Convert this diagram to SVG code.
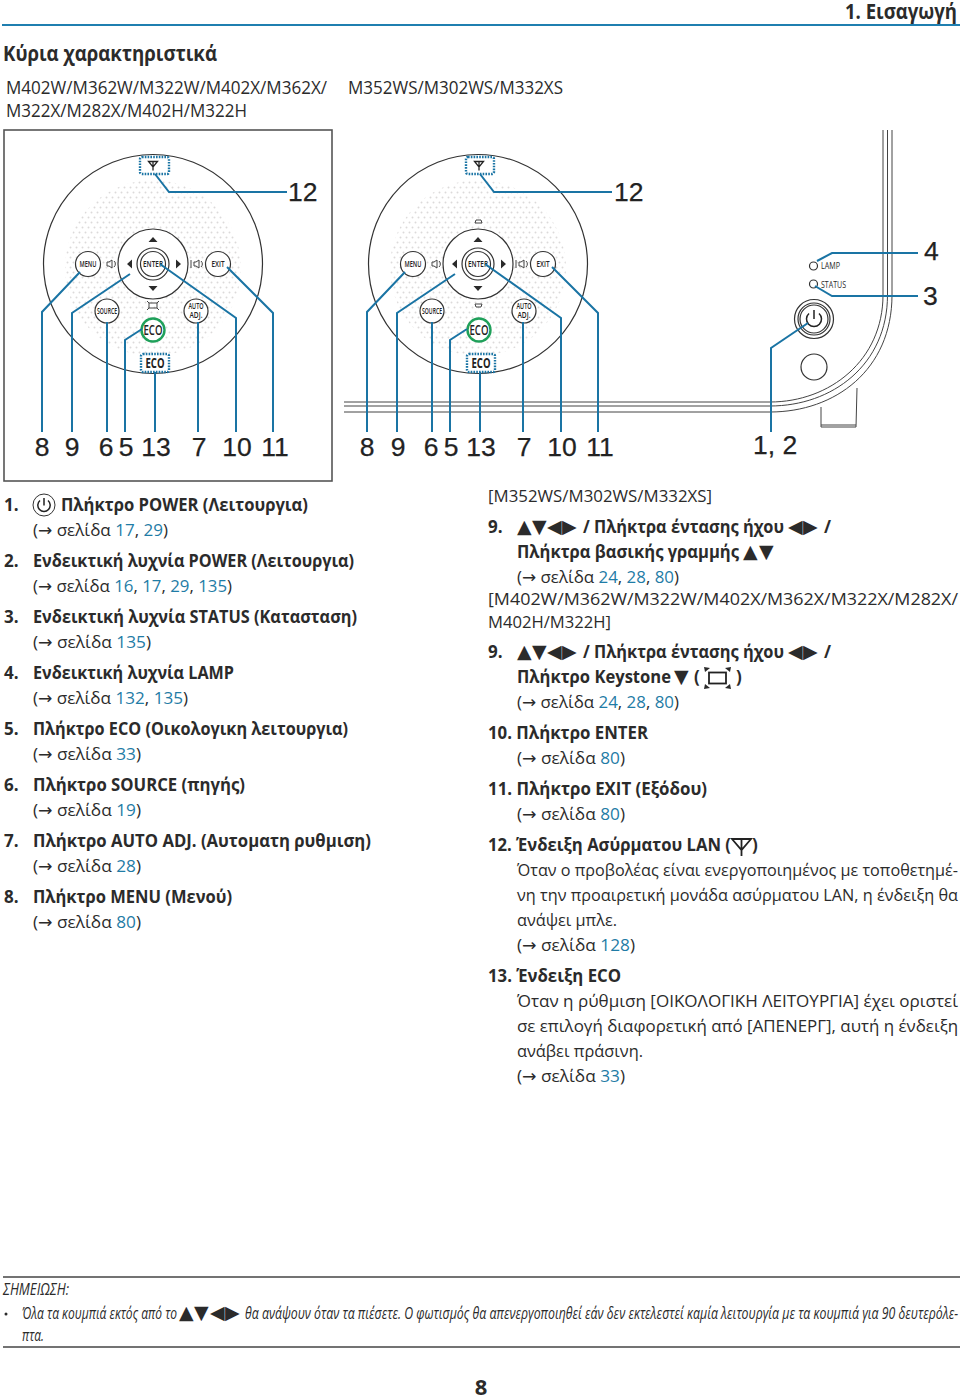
<svg xmlns="http://www.w3.org/2000/svg" width="960" height="1399" viewBox="0 0 960 1399">
<style>
text{font-family:"Open Sans","Noto Sans",sans-serif;fill:#2b2b2b}
.b{font-size:17px;font-weight:700}
.r{font-size:17px}
.h{font-size:21px;font-weight:700}
.m{font-size:17.5px}
.l{font-family:"Liberation Sans",Arial,sans-serif;font-size:26.500px;fill:#222;stroke:#222;stroke-width:.25}
.t{font-family:"DejaVu Sans",sans-serif;font-size:19px}
.ar{font-family:"DejaVu Sans",sans-serif}
.n{font-style:italic;font-size:16px}
.k{font-size:9px;font-weight:600;text-anchor:middle;fill:#222}
.e{font-size:14px;font-weight:600;text-anchor:middle;fill:#222}
.a{fill:#1f7ca6}
.lead{fill:none;stroke:#1a74a4;stroke-width:2}
.rule{stroke:#444;stroke-width:1.4}
.btn{fill:#fff;stroke:#333;stroke-width:1.2}
.ln{fill:none;stroke:#444;stroke-width:1}
.dot{fill:#fff;stroke:#1a74a4;stroke-width:2.4;stroke-dasharray:1.6 1.2}
.eco{fill:#fff;stroke:#1fa05a;stroke-width:2.4}
.blk{fill:#2b2b2b}
</style>
<defs>
<pattern id="sp" width="6" height="10" patternUnits="userSpaceOnUse"><circle cx="1.500" cy="2.500" r="1" fill="#dcdada"/><circle cx="4.500" cy="7.500" r="1" fill="#dcdada"/></pattern>
<g id="wl"><path d="M-4.500 -3.500H4.500L0 2ZM0 -3.500V5.500" fill="none" stroke="#222" stroke-width="1.3"/></g>
</defs>
<rect width="960" height="1399" fill="#fff"/>

<g id="header">
<text x="957" y="19" text-anchor="end" class="h" textLength="112" lengthAdjust="spacingAndGlyphs">1. Εισαγωγή</text>
<line x1="2" y1="25" x2="960" y2="25" stroke="#1f7fb0" stroke-width="2"/>
<text x="3" y="61" class="h" textLength="214" lengthAdjust="spacingAndGlyphs">Κύρια χαρακτηριστικά</text>
<text x="6" y="94" class="m" textLength="321" lengthAdjust="spacingAndGlyphs">M402W/M362W/M322W/M402X/M362X/</text>
<text x="6" y="117" class="m" textLength="241" lengthAdjust="spacingAndGlyphs">M322X/M282X/M402H/M322H</text>
<text x="348" y="94" class="m" textLength="215" lengthAdjust="spacingAndGlyphs">M352WS/M302WS/M332XS</text>
</g>
<rect id="frame" x="4" y="130" width="328" height="351" fill="none" stroke="#555" stroke-width="1.6"/>

<g id="dial-a">
<circle cx="153" cy="264" r="109.5" class="btn"/>
<circle cx="153" cy="268" r="88" fill="url(#sp)"/>
<g id="a-dpad"><circle cx="153" cy="264" r="35" class="btn"/><circle cx="153" cy="264" r="16" class="btn"/><circle cx="153" cy="264" r="12.5" class="btn"/>
<text x="153" y="267" class="k" textLength="20" lengthAdjust="spacingAndGlyphs">ENTER</text>
<path d="M153 237l4.500 5h-9zM153 291l4.500-5h-9zM127 264l5-4.500v9zM181 264l-5-4.500v9z" class="blk"/></g>
<path d="M107 262h2l3-2v8l-3-2h-2zM114 261a4 4 0 0 1 0 6M194 262h2l3-2v8l-3-2h-2zM201 261a4 4 0 0 1 0 6M191 260v8M147 301l2 2h8l2-2M149 303v5M157 303v5M147 310l2-2h8l2 2" class="ln"/>
<g id="a-menu"><circle cx="88" cy="264" r="12.5" class="btn"/><text x="88" y="267" class="k" textLength="17" lengthAdjust="spacingAndGlyphs">MENU</text></g>
<g id="a-exit"><circle cx="218" cy="264" r="12.5" class="btn"/><text x="218" y="267" class="k" textLength="13" lengthAdjust="spacingAndGlyphs">EXIT</text></g>
<g id="a-source"><circle cx="107" cy="311" r="12" class="btn"/><text x="107" y="314" class="k" textLength="20" lengthAdjust="spacingAndGlyphs">SOURCE</text></g>
<g id="a-auto"><circle cx="196" cy="311" r="12" class="btn"/><text x="196" y="309" class="k" style="font-size:8px" textLength="15" lengthAdjust="spacingAndGlyphs">AUTO</text><text x="196" y="317.500" class="k" style="font-size:8px" textLength="13" lengthAdjust="spacingAndGlyphs">ADJ.</text></g>
<g id="a-eco"><circle cx="153" cy="330" r="11.5" class="eco"/><text x="153" y="335" class="e" textLength="19" lengthAdjust="spacingAndGlyphs">ECO</text></g>
<g id="a-eco-ind"><rect x="141" y="354" width="28" height="18" rx="2" class="dot"/><text x="155" y="368" class="e" style="font-weight:700" textLength="19" lengthAdjust="spacingAndGlyphs">ECO</text></g>
<g id="a-wl"><rect x="140" y="157" width="29" height="17" rx="2" class="dot"/><use href="#wl" x="153" y="165"/></g>
</g>

<g id="dial-b">
<circle cx="478" cy="264" r="109.5" class="btn"/>
<circle cx="478" cy="268" r="88" fill="url(#sp)"/>
<path d="M475 223l1-3h5l1 3zM475 304h7l-1 3h-5z" class="ln"/>
<g id="b-dpad"><circle cx="478" cy="264" r="35" class="btn"/><circle cx="478" cy="264" r="16" class="btn"/><circle cx="478" cy="264" r="12.5" class="btn"/>
<text x="478" y="267" class="k" textLength="20" lengthAdjust="spacingAndGlyphs">ENTER</text>
<path d="M478 237l4.500 5h-9zM478 291l4.500-5h-9zM452 264l5-4.500v9zM506 264l-5-4.500v9z" class="blk"/></g>
<path d="M432 262h2l3-2v8l-3-2h-2zM439 261a4 4 0 0 1 0 6M519 262h2l3-2v8l-3-2h-2zM526 261a4 4 0 0 1 0 6M516 260v8" class="ln"/>
<g id="b-menu"><circle cx="413" cy="264" r="12.5" class="btn"/><text x="413" y="267" class="k" textLength="17" lengthAdjust="spacingAndGlyphs">MENU</text></g>
<g id="b-exit"><circle cx="543" cy="264" r="12.5" class="btn"/><text x="543" y="267" class="k" textLength="13" lengthAdjust="spacingAndGlyphs">EXIT</text></g>
<g id="b-source"><circle cx="432" cy="311" r="12" class="btn"/><text x="432" y="314" class="k" textLength="20" lengthAdjust="spacingAndGlyphs">SOURCE</text></g>
<g id="b-auto"><circle cx="524" cy="311" r="12" class="btn"/><text x="524" y="309" class="k" style="font-size:8px" textLength="15" lengthAdjust="spacingAndGlyphs">AUTO</text><text x="524" y="317.500" class="k" style="font-size:8px" textLength="13" lengthAdjust="spacingAndGlyphs">ADJ.</text></g>
<g id="b-eco"><circle cx="479" cy="330" r="11.5" class="eco"/><text x="479" y="335" class="e" textLength="19" lengthAdjust="spacingAndGlyphs">ECO</text></g>
<g id="b-eco-ind"><rect x="467" y="354" width="28" height="18" rx="2" class="dot"/><text x="481" y="368" class="e" style="font-weight:700" textLength="19" lengthAdjust="spacingAndGlyphs">ECO</text></g>
<g id="b-wl"><rect x="466" y="157" width="28" height="17" rx="2" class="dot"/><use href="#wl" x="479" y="165"/></g>
</g>

<g id="projector">
<path d="M883 130V295C883 360 830 402 770 402H344M887.500 130V295C887.500 365 832 406 770 406H344M892 130V295C892 370 835 412 770 412H344" class="ln"/>
<path d="M821 407V427H856L857 388M821 425H856" class="ln"/>
<g id="c-power"><circle cx="814" cy="319" r="19.5" class="btn"/><circle cx="814" cy="319" r="16" class="btn"/><circle cx="814" cy="319" r="14" class="btn"/>
<path d="M809 313.500A7.500 7.500 0 1 0 819 313.500M814 310V319" fill="none" stroke="#222" stroke-width="1.500"/></g>
<circle id="c-sensor" cx="814" cy="367" r="13" class="btn"/>
<g id="c-lamp"><circle cx="813.500" cy="266" r="4" class="btn"/><text x="821" y="269" style="font-size:9px" textLength="19" lengthAdjust="spacingAndGlyphs">LAMP</text></g>
<g id="c-status"><circle cx="813.500" cy="284" r="4" class="btn"/><text x="821" y="288" style="font-size:9px" textLength="25" lengthAdjust="spacingAndGlyphs">STATUS</text></g>
</g>

<g id="connectors">
<path class="lead" d="M155 174L169 192H287M80 272L42 312V432M130 274L72 313V432M107 322V432M142 329L125 340V432M155 372V432M198 322V432M160 264L236 318V432M227 267L273 313V432"/>
<path class="lead" d="M480 174L494 192H612M405 272L367 312V432M455 274L397 313V432M432 322V432M467 329L450 340V432M480 372V432M523 322V432M485 264L561 318V432M552 267L598 313V432"/>
<path class="lead" d="M808 323L771 348V432M817 261L832 253H918M815 286L832 296H918"/>
</g>

<g id="callouts">
<text x="288" y="201" class="l">12</text><text x="614" y="201" class="l">12</text>
<text x="924" y="260" class="l">4</text><text x="923" y="305" class="l">3</text>
<text x="753" y="454" class="l">1, 2</text>
<text x="42" y="456" class="l" text-anchor="middle">8</text><text x="72" y="456" class="l" text-anchor="middle">9</text><text x="106" y="456" class="l" text-anchor="middle">6</text><text x="126" y="456" class="l" text-anchor="middle">5</text><text x="156" y="456" class="l" text-anchor="middle">13</text><text x="199" y="456" class="l" text-anchor="middle">7</text><text x="237" y="456" class="l" text-anchor="middle">10</text><text x="275" y="456" class="l" text-anchor="middle">11</text>
<text x="367" y="456" class="l" text-anchor="middle">8</text><text x="398" y="456" class="l" text-anchor="middle">9</text><text x="431" y="456" class="l" text-anchor="middle">6</text><text x="451" y="456" class="l" text-anchor="middle">5</text><text x="481" y="456" class="l" text-anchor="middle">13</text><text x="524" y="456" class="l" text-anchor="middle">7</text><text x="562" y="456" class="l" text-anchor="middle">10</text><text x="600" y="456" class="l" text-anchor="middle">11</text>
</g>

<g id="list-left">
<text x="4" y="511" class="b">1.</text>
<circle cx="44" cy="505" r="11" fill="#fff" stroke="#333"/><path d="M40 500.500A6.200 6.200 0 1 0 48 500.500M44 498V505.500" fill="none" stroke="#222" stroke-width="1.500"/>
<text x="61" y="511" class="b" textLength="247" lengthAdjust="spacingAndGlyphs">Πλήκτρο POWER (Λειτουργια)</text>
<text x="33" y="536" class="r" textLength="135" lengthAdjust="spacingAndGlyphs">(<tspan class="ar">→</tspan> σελίδα <tspan class="a">17</tspan>, <tspan class="a">29</tspan>)</text>
<text x="4" y="567" class="b">2.</text>
<text x="33" y="567" class="b" textLength="321" lengthAdjust="spacingAndGlyphs">Ενδεικτική λυχνία POWER (Λειτουργια)</text>
<text x="33" y="592" class="r" textLength="199" lengthAdjust="spacingAndGlyphs">(<tspan class="ar">→</tspan> σελίδα <tspan class="a">16</tspan>, <tspan class="a">17</tspan>, <tspan class="a">29</tspan>, <tspan class="a">135</tspan>)</text>
<text x="4" y="623" class="b">3.</text>
<text x="33" y="623" class="b" textLength="324" lengthAdjust="spacingAndGlyphs">Ενδεικτική λυχνία STATUS (Κατασταση)</text>
<text x="33" y="648" class="r" textLength="118" lengthAdjust="spacingAndGlyphs">(<tspan class="ar">→</tspan> σελίδα <tspan class="a">135</tspan>)</text>
<text x="4" y="679" class="b">4.</text>
<text x="33" y="679" class="b" textLength="201" lengthAdjust="spacingAndGlyphs">Ενδεικτική λυχνία LAMP</text>
<text x="33" y="704" class="r" textLength="155" lengthAdjust="spacingAndGlyphs">(<tspan class="ar">→</tspan> σελίδα <tspan class="a">132</tspan>, <tspan class="a">135</tspan>)</text>
<text x="4" y="735" class="b">5.</text>
<text x="33" y="735" class="b" textLength="315" lengthAdjust="spacingAndGlyphs">Πλήκτρο ECO (Οικολογικη λειτουργια)</text>
<text x="33" y="760" class="r" textLength="108" lengthAdjust="spacingAndGlyphs">(<tspan class="ar">→</tspan> σελίδα <tspan class="a">33</tspan>)</text>
<text x="4" y="791" class="b">6.</text>
<text x="33" y="791" class="b" textLength="212" lengthAdjust="spacingAndGlyphs">Πλήκτρο SOURCE (πηγής)</text>
<text x="33" y="816" class="r" textLength="108" lengthAdjust="spacingAndGlyphs">(<tspan class="ar">→</tspan> σελίδα <tspan class="a">19</tspan>)</text>
<text x="4" y="847" class="b">7.</text>
<text x="33" y="847" class="b" textLength="338" lengthAdjust="spacingAndGlyphs">Πλήκτρο AUTO ADJ. (Αυτοματη ρυθμιση)</text>
<text x="33" y="872" class="r" textLength="108" lengthAdjust="spacingAndGlyphs">(<tspan class="ar">→</tspan> σελίδα <tspan class="a">28</tspan>)</text>
<text x="4" y="903" class="b">8.</text>
<text x="33" y="903" class="b" textLength="199" lengthAdjust="spacingAndGlyphs">Πλήκτρο MENU (Μενού)</text>
<text x="33" y="928" class="r" textLength="108" lengthAdjust="spacingAndGlyphs">(<tspan class="ar">→</tspan> σελίδα <tspan class="a">80</tspan>)</text>
</g>

<g id="list-right">
<text x="488" y="502" class="r" textLength="224" lengthAdjust="spacingAndGlyphs">[M352WS/M302WS/M332XS]</text>
<text x="488" y="533" class="b">9.</text>
<text x="517 532 547 562" y="533" class="t">▲▼◀▶</text>
<text x="583" y="533" class="b" textLength="201" lengthAdjust="spacingAndGlyphs">/ Πλήκτρα έντασης ήχου</text>
<text x="788 803" y="533" class="t">◀▶</text>
<text x="824" y="533" class="b">/</text>
<text x="517" y="558" class="b" textLength="222" lengthAdjust="spacingAndGlyphs">Πλήκτρα βασικής γραμμής</text>
<text x="743 759" y="558" class="t">▲▼</text>
<text x="517" y="583" class="r" textLength="162" lengthAdjust="spacingAndGlyphs">(<tspan class="ar">→</tspan> σελίδα <tspan class="a">24</tspan>, <tspan class="a">28</tspan>, <tspan class="a">80</tspan>)</text>
<text x="488" y="605" class="r" textLength="470" lengthAdjust="spacingAndGlyphs">[M402W/M362W/M322W/M402X/M362X/M322X/M282X/</text>
<text x="488" y="628" class="r" textLength="123" lengthAdjust="spacingAndGlyphs">M402H/M322H]</text>
<text x="488" y="658" class="b">9.</text>
<text x="517 532 547 562" y="658" class="t">▲▼◀▶</text>
<text x="583" y="658" class="b" textLength="201" lengthAdjust="spacingAndGlyphs">/ Πλήκτρα έντασης ήχου</text>
<text x="788 803" y="658" class="t">◀▶</text>
<text x="824" y="658" class="b">/</text>
<text x="517" y="683" class="b" textLength="154" lengthAdjust="spacingAndGlyphs">Πλήκτρο Keystone</text>
<text x="674" y="683" class="t">▼</text>
<text x="694" y="683" class="b">(</text>
<rect x="709" y="672.500" width="17" height="11" fill="none" stroke="#222" stroke-width="1.800"/>
<path d="M704 667l6 1-5 4zM731 667l-6 1 5 4zM704 689l6-1-5-4zM731 689l-6-1 5-4z" class="blk"/>
<text x="736" y="683" class="b">)</text>
<text x="517" y="708" class="r" textLength="162" lengthAdjust="spacingAndGlyphs">(<tspan class="ar">→</tspan> σελίδα <tspan class="a">24</tspan>, <tspan class="a">28</tspan>, <tspan class="a">80</tspan>)</text>
<text x="488" y="739" class="b" textLength="160" lengthAdjust="spacingAndGlyphs">10. Πλήκτρο ENTER</text>
<text x="517" y="764" class="r" textLength="108" lengthAdjust="spacingAndGlyphs">(<tspan class="ar">→</tspan> σελίδα <tspan class="a">80</tspan>)</text>
<text x="488" y="795" class="b" textLength="219" lengthAdjust="spacingAndGlyphs">11. Πλήκτρο EXIT (Εξόδου)</text>
<text x="517" y="820" class="r" textLength="108" lengthAdjust="spacingAndGlyphs">(<tspan class="ar">→</tspan> σελίδα <tspan class="a">80</tspan>)</text>
<text x="488" y="851" class="b" textLength="243" lengthAdjust="spacingAndGlyphs">12. Ένδειξη Ασύρματου LAN (</text>
<path d="M732 839H751L741.500 850ZM741.500 839V856" fill="none" stroke="#222" stroke-width="1.800"/>
<text x="752" y="851" class="b">)</text>
<text x="517" y="876" class="r" textLength="441" lengthAdjust="spacingAndGlyphs">Όταν ο προβολέας είναι ενεργοποιημένος με τοποθετημέ-</text>
<text x="517" y="901" class="r" textLength="441" lengthAdjust="spacingAndGlyphs">νη την προαιρετική μονάδα ασύρματου LAN, η ένδειξη θα</text>
<text x="517" y="926" class="r" textLength="100" lengthAdjust="spacingAndGlyphs">ανάψει μπλε.</text>
<text x="517" y="951" class="r" textLength="118" lengthAdjust="spacingAndGlyphs">(<tspan class="ar">→</tspan> σελίδα <tspan class="a">128</tspan>)</text>
<text x="488" y="982" class="b" textLength="133" lengthAdjust="spacingAndGlyphs">13. Ένδειξη ECO</text>
<text x="517" y="1007" class="r" textLength="441" lengthAdjust="spacingAndGlyphs">Όταν η ρύθμιση [ΟΙΚΟΛΟΓΙΚΗ ΛΕΙΤΟΥΡΓΙΑ] έχει οριστεί</text>
<text x="517" y="1032" class="r" textLength="441" lengthAdjust="spacingAndGlyphs">σε επιλογή διαφορετική από [ΑΠΕΝΕΡΓ], αυτή η ένδειξη</text>
<text x="517" y="1057" class="r" textLength="126" lengthAdjust="spacingAndGlyphs">ανάβει πράσινη.</text>
<text x="517" y="1082" class="r" textLength="108" lengthAdjust="spacingAndGlyphs">(<tspan class="ar">→</tspan> σελίδα <tspan class="a">33</tspan>)</text>
</g>

<g id="note">
<line x1="3" y1="1277" x2="960" y2="1277" class="rule"/>
<text x="3" y="1295" class="n" textLength="66" lengthAdjust="spacingAndGlyphs">ΣΗΜΕΙΩΣΗ:</text>
<circle cx="6" cy="1314" r="1.500" class="blk"/>
<text x="22" y="1319" class="n" textLength="155" lengthAdjust="spacingAndGlyphs">Όλα τα κουμπιά εκτός από το</text>
<text x="179 194 210 225" y="1319" class="t">▲▼◀▶</text>
<text x="245" y="1319" class="n" textLength="713" lengthAdjust="spacingAndGlyphs">θα ανάψουν όταν τα πιέσετε. Ο φωτισμός θα απενεργοποιηθεί εάν δεν εκτελεστεί καμία λειτουργία με τα κουμπιά για 90 δευτερόλε-</text>
<text x="22" y="1341" class="n" textLength="22" lengthAdjust="spacingAndGlyphs">πτα.</text>
<line x1="3" y1="1347" x2="960" y2="1347" class="rule"/>
<text x="481" y="1395" text-anchor="middle" style="font-size:22px;font-weight:700">8</text>
</g>
</svg>
